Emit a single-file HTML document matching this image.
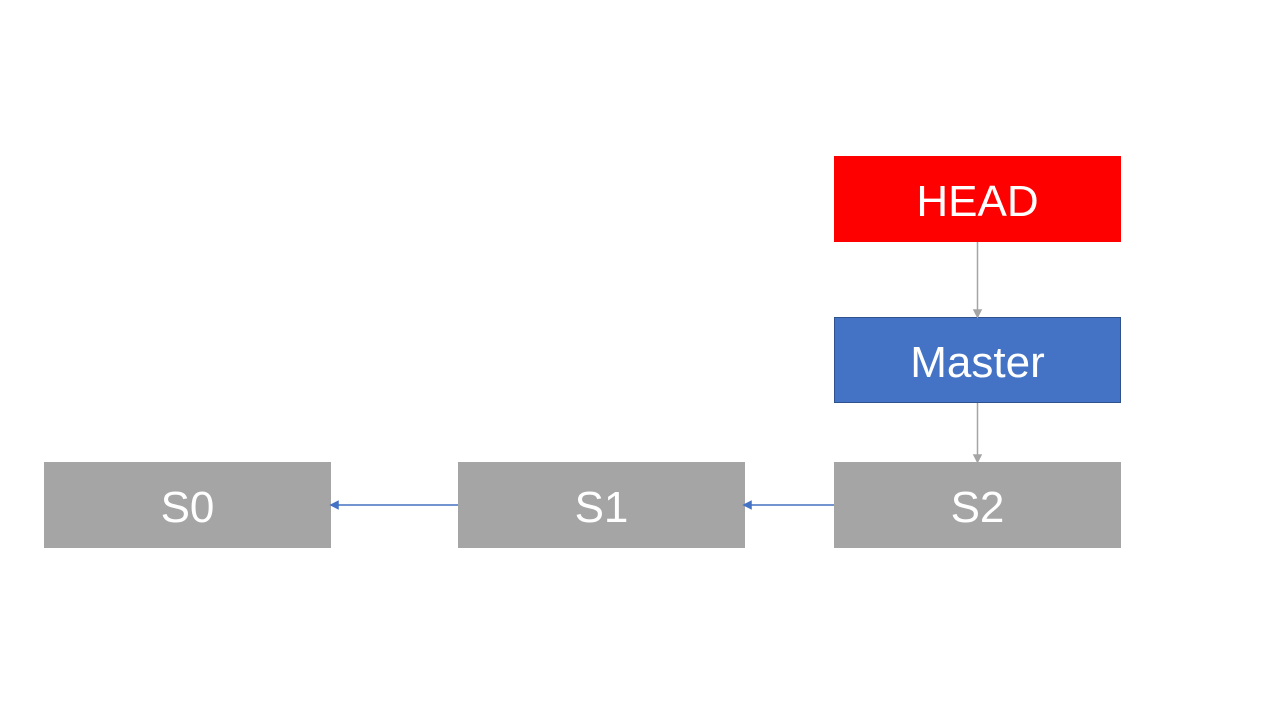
<!DOCTYPE html>
<html><head><meta charset="utf-8"><style>
body{margin:0;width:1280px;height:720px;background:#fff;position:relative;overflow:hidden;font-family:"Liberation Sans",sans-serif}
.b{position:absolute;width:287px;height:86px;color:#fff;font-size:44px;display:flex;align-items:center;justify-content:center;box-sizing:border-box;padding-top:6px}
.g{background:#a5a5a5}
svg{position:absolute;left:0;top:0}
</style></head><body>
<div class="b" style="left:834px;top:156px;background:#ff0000">HEAD</div>
<div class="b" style="left:834px;top:317px;background:#4472c4;border:1px solid #2f528f">Master</div>
<div class="b g" style="left:44px;top:462px">S0</div>
<div class="b g" style="left:458px;top:462px">S1</div>
<div class="b g" style="left:834px;top:462px">S2</div>
<svg width="1280" height="720">
<g stroke="#a5a5a5" stroke-width="1.5" fill="#a5a5a5">
<line x1="977.5" y1="242" x2="977.5" y2="311"/><polygon points="974,310 981,310 977.5,317"/>
<line x1="977.5" y1="403" x2="977.5" y2="456"/><polygon points="974,455 981,455 977.5,462"/>
</g>
<g stroke="#4472c4" stroke-width="1.5" fill="#4472c4">
<line x1="834" y1="505" x2="750" y2="505"/><polygon points="751,501.5 751,508.5 744,505"/>
<line x1="458" y1="505" x2="337" y2="505"/><polygon points="338,501.5 338,508.5 331,505"/>
</g>
</svg>
</body></html>
